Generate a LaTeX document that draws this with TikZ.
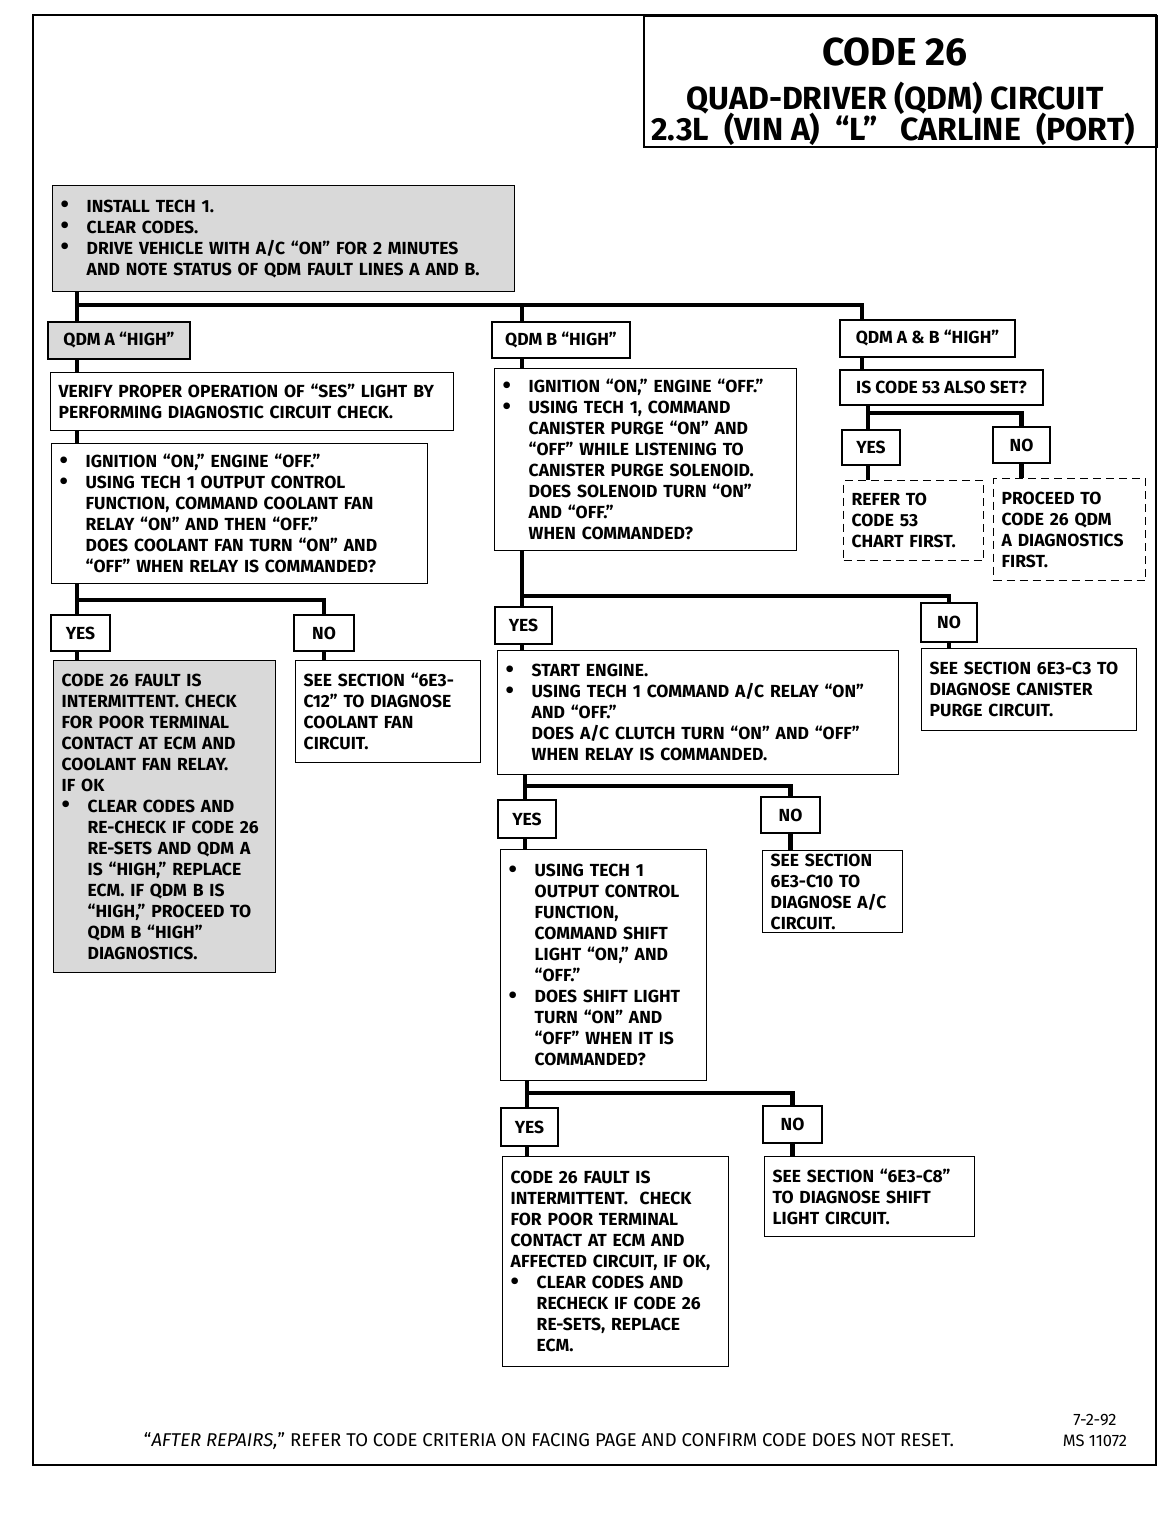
\documentclass[tikz,border=0pt]{standalone}
\usepackage{fontspec}
\setmainfont{Fira Sans}
\newcommand{\bdot}{\makebox[26pt][l]{\raisebox{-0.5pt}{\fontsize{24}{20}\selectfont\textbullet}}}
\newcommand{\bind}{\hspace*{26pt}}
\begin{document}
\begin{tikzpicture}[
        x=1pt, y=-1pt,
        txt/.style={font=\fontsize{17.5}{21}\selectfont\bfseries},
        box/.style={draw, line width=1.4pt, anchor=north west, inner xsep=8pt, inner ysep=0pt, align=left, txt},
        shade/.style={fill=black!15},
        tag/.style={draw, line width=1.4pt, inner sep=0pt, align=center, txt},
        dbox/.style={box, line width=1.2pt, dash pattern=on 8pt off 5pt},
        conn/.style={line width=4.5pt},
        head/.style={anchor=base, font=\fontsize{32}{34}\selectfont\bfseries}
    ]

        \useasboundingbox (0,0) rectangle (1168,1536);

        % frame and title
        \draw[line width=2pt] (33,15) rectangle (1156,1465);
        \node[draw, line width=1.6pt, anchor=north west, minimum width=513pt, minimum height=131pt,
              inner sep=0pt] (title) at (643,15) {};
        \node[head, font=\fontsize{39}{40}\selectfont\bfseries] (code) at (895,66) {CODE 26};
        \node[head] (sub1) at (895,110) {QUAD-DRIVER (QDM) CIRCUIT};
        \node[head] (sub2) at (893,140) {2.3L\ \ (VIN A)\ \ “L”\ \ \ CARLINE\ \ (PORT)};

        % first step
        \node[box, shade, minimum width=462pt, minimum height=106pt, text width=446pt] (start) at (52,185)
            {\bdot INSTALL TECH 1.\\
             \bdot CLEAR CODES.\\
             \bdot DRIVE VEHICLE WITH A/C “ON” FOR 2 MINUTES\\
             \bind AND NOTE STATUS OF QDM FAULT LINES A AND B.};

        \node[tag, shade, minimum width=142pt, minimum height=37pt] (qdmA) at (119,340.5) {QDM A “HIGH”};
        \node[tag, minimum width=138pt, minimum height=36pt] (qdmB) at (561,340) {QDM B “HIGH”};
        \node[tag, minimum width=175pt, minimum height=37pt] (qdmAB) at (927.5,338.5) {QDM A \& B “HIGH”};

        % QDM A column
        \node[box, minimum width=403pt, minimum height=58pt, text width=387pt] (verify) at (50,372)
            {VERIFY PROPER OPERATION OF “SES” LIGHT BY\\
             PERFORMING DIAGNOSTIC CIRCUIT CHECK.};
        \node[box, minimum width=376pt, minimum height=140pt, text width=360pt] (ignA) at (51,443)
            {\bdot IGNITION “ON,” ENGINE “OFF.”\\
             \bdot USING TECH 1 OUTPUT CONTROL\\
             \bind FUNCTION, COMMAND COOLANT FAN\\
             \bind RELAY “ON” AND THEN “OFF.”\\
             \bind DOES COOLANT FAN TURN “ON” AND\\
             \bind “OFF” WHEN RELAY IS COMMANDED?};
        \node[tag, minimum width=59pt, minimum height=36pt] (yesA) at (80.5,633) {YES};
        \node[tag, minimum width=60pt, minimum height=36pt] (noA) at (324,633) {NO};
        \node[box, shade, minimum width=222pt, minimum height=312pt, text width=206pt] (faultA) at (53,660)
            {CODE 26 FAULT IS\\
             INTERMITTENT. CHECK\\
             FOR POOR TERMINAL\\
             CONTACT AT ECM AND\\
             COOLANT FAN RELAY.\\
             IF OK\\
             \bdot CLEAR CODES AND\\
             \bind RE-CHECK IF CODE 26\\
             \bind RE-SETS AND QDM A\\
             \bind IS “HIGH,” REPLACE\\
             \bind ECM. IF QDM B IS\\
             \bind “HIGH,” PROCEED TO\\
             \bind QDM B “HIGH”\\
             \bind DIAGNOSTICS.};
        \node[box, minimum width=185pt, minimum height=102pt, text width=169pt] (fanA) at (295,660)
            {SEE SECTION “6E3-\\
             C12” TO DIAGNOSE\\
             COOLANT FAN\\
             CIRCUIT.};

        % QDM B column
        \node[box, minimum width=302pt, minimum height=182pt, text width=286pt] (ignB) at (494,368)
            {\bdot IGNITION “ON,” ENGINE “OFF.”\\
             \bdot USING TECH 1, COMMAND\\
             \bind CANISTER PURGE “ON” AND\\
             \bind “OFF” WHILE LISTENING TO\\
             \bind CANISTER PURGE SOLENOID.\\
             \bind DOES SOLENOID TURN “ON”\\
             \bind AND “OFF.”\\
             \bind WHEN COMMANDED?};
        \node[tag, minimum width=57pt, minimum height=37pt] (yesB) at (523.5,625.5) {YES};
        \node[tag, minimum width=56pt, minimum height=39pt] (noB) at (949,622.5) {NO};
        \node[box, minimum width=401pt, minimum height=124pt, text width=385pt] (acB) at (497,650)
            {\bdot START ENGINE.\\
             \bdot USING TECH 1 COMMAND A/C RELAY “ON”\\
             \bind AND “OFF.”\\
             \bind DOES A/C CLUTCH TURN “ON” AND “OFF”\\
             \bind WHEN RELAY IS COMMANDED.};
        \node[box, minimum width=215pt, minimum height=82pt, text width=199pt] (purgeB) at (921,648)
            {SEE SECTION 6E3-C3 TO\\
             DIAGNOSE CANISTER\\
             PURGE CIRCUIT.};

        \node[tag, minimum width=58pt, minimum height=38pt] (yesC) at (527,819) {YES};
        \node[tag, minimum width=59pt, minimum height=36pt] (noC) at (790.5,815) {NO};
        \node[box, minimum width=206pt, minimum height=231pt, text width=190pt] (shiftC) at (500,849)
            {\bdot USING TECH 1\\
             \bind OUTPUT CONTROL\\
             \bind FUNCTION,\\
             \bind COMMAND SHIFT\\
             \bind LIGHT “ON,” AND\\
             \bind “OFF.”\\
             \bdot DOES SHIFT LIGHT\\
             \bind TURN “ON” AND\\
             \bind “OFF” WHEN IT IS\\
             \bind COMMANDED?};
        \node[box, minimum width=140pt, minimum height=82pt, text width=124pt] (acC) at (762,850)
            {SEE SECTION\\
             6E3-C10 TO\\
             DIAGNOSE A/C\\
             CIRCUIT.};

        \node[tag, minimum width=57pt, minimum height=38pt] (yesD) at (529.5,1127) {YES};
        \node[tag, minimum width=59pt, minimum height=37pt] (noD) at (792.5,1124.5) {NO};
        \node[box, minimum width=226pt, minimum height=210pt, text width=210pt] (faultD) at (502,1156)
            {CODE 26 FAULT IS\\
             INTERMITTENT.\ \ CHECK\\
             FOR POOR TERMINAL\\
             CONTACT AT ECM AND\\
             AFFECTED CIRCUIT, IF OK,\\
             \bdot CLEAR CODES AND\\
             \bind RECHECK IF CODE 26\\
             \bind RE-SETS, REPLACE\\
             \bind ECM.};
        \node[box, minimum width=210pt, minimum height=80pt, text width=194pt] (lightD) at (764,1156)
            {SEE SECTION “6E3-C8”\\
             TO DIAGNOSE SHIFT\\
             LIGHT CIRCUIT.};

        % QDM A & B column
        \node[tag, minimum width=203pt, minimum height=35pt] (code53) at (941.5,387.5) {IS CODE 53 ALSO SET?};
        \node[tag, minimum width=58pt, minimum height=35pt] (yesE) at (871,447.5) {YES};
        \node[tag, minimum width=57pt, minimum height=36pt] (noE) at (1021.5,445) {NO};
        \node[dbox, minimum width=140pt, minimum height=80pt, text width=124pt] (refer53) at (843,480)
            {REFER TO\\
             CODE 53\\
             CHART FIRST.};
        \node[dbox, minimum width=152pt, minimum height=102pt, text width=136pt] (proceed) at (993,478)
            {PROCEED TO\\
             CODE 26 QDM\\
             A DIAGNOSTICS\\
             FIRST.};

        % connectors
        \coordinate (busL) at (77,305);
        \coordinate (busM) at (522,305);
        \coordinate (busR) at (862,305);
        \draw[conn] (start.south -| busL) -- (busL) -- (busR) -- (busR |- qdmAB.north);
        \draw[conn] (busL) -- (busL |- qdmA.north);
        \draw[conn] (busM) -- (busM |- qdmB.north);
        \draw[conn] (qdmA.south -| busL) -- (verify.north -| busL);
        \draw[conn] (verify.south -| busL) -- (ignA.north -| busL);

        \coordinate (jA) at (77,600);
        \draw[conn] (ignA.south -| jA) -- (jA) -| (noA.north);
        \draw[conn] (jA) -- (jA |- yesA.north);
        \draw[conn] (yesA.south -| jA) -- (faultA.north -| jA);
        \draw[conn] (noA.south) -- (noA.south |- fanA.north);

        \draw[conn] (qdmB.south -| busM) -- (ignB.north -| busM);
        \coordinate (jB) at (522,596);
        \draw[conn] (ignB.south -| jB) -- (jB) -| (noB.north);
        \draw[conn] (jB) -- (jB |- yesB.north);
        \draw[conn] (yesB.south -| jB) -- (acB.north -| jB);
        \draw[conn] (noB.south) -- (noB.south |- purgeB.north);

        \coordinate (jC) at (525,786);
        \draw[conn] (acB.south -| jC) -- (jC) -| (noC.north);
        \draw[conn] (jC) -- (jC |- yesC.north);
        \draw[conn] (yesC.south -| jC) -- (shiftC.north -| jC);
        \draw[conn] (noC.south) -- (noC.south |- acC.north);

        \coordinate (jD) at (527,1093);
        \draw[conn] (shiftC.south -| jD) -- (jD) -| (noD.north);
        \draw[conn] (jD) -- (jD |- yesD.north);
        \draw[conn] (yesD.south -| jD) -- (faultD.north -| jD);
        \draw[conn] (noD.south) -- (noD.south |- lightD.north);

        \draw[conn] (qdmAB.south -| busR) -- (code53.north -| busR);
        \coordinate (jE) at (868,413);
        \draw[conn] (code53.south -| jE) -- (jE) -| (noE.north);
        \draw[conn] (jE) -- (jE |- yesE.north);
        \draw[conn] (yesE.south -| jE) -- (refer53.north -| jE);
        \draw[conn] (noE.south) -- (noE.south |- proceed.north);

        % footer
        \node[font=\fontsize{18.5}{21}\selectfont] (note) at (549,1441)
            {“\textit{AFTER REPAIRS,}” REFER TO CODE CRITERIA ON FACING PAGE AND CONFIRM CODE DOES NOT RESET.};
        \node[font=\fontsize{16.5}{21}\selectfont, align=center] (ms) at (1095,1430) {7-2-92\\MS 11072};

    \end{tikzpicture}
\end{document}
